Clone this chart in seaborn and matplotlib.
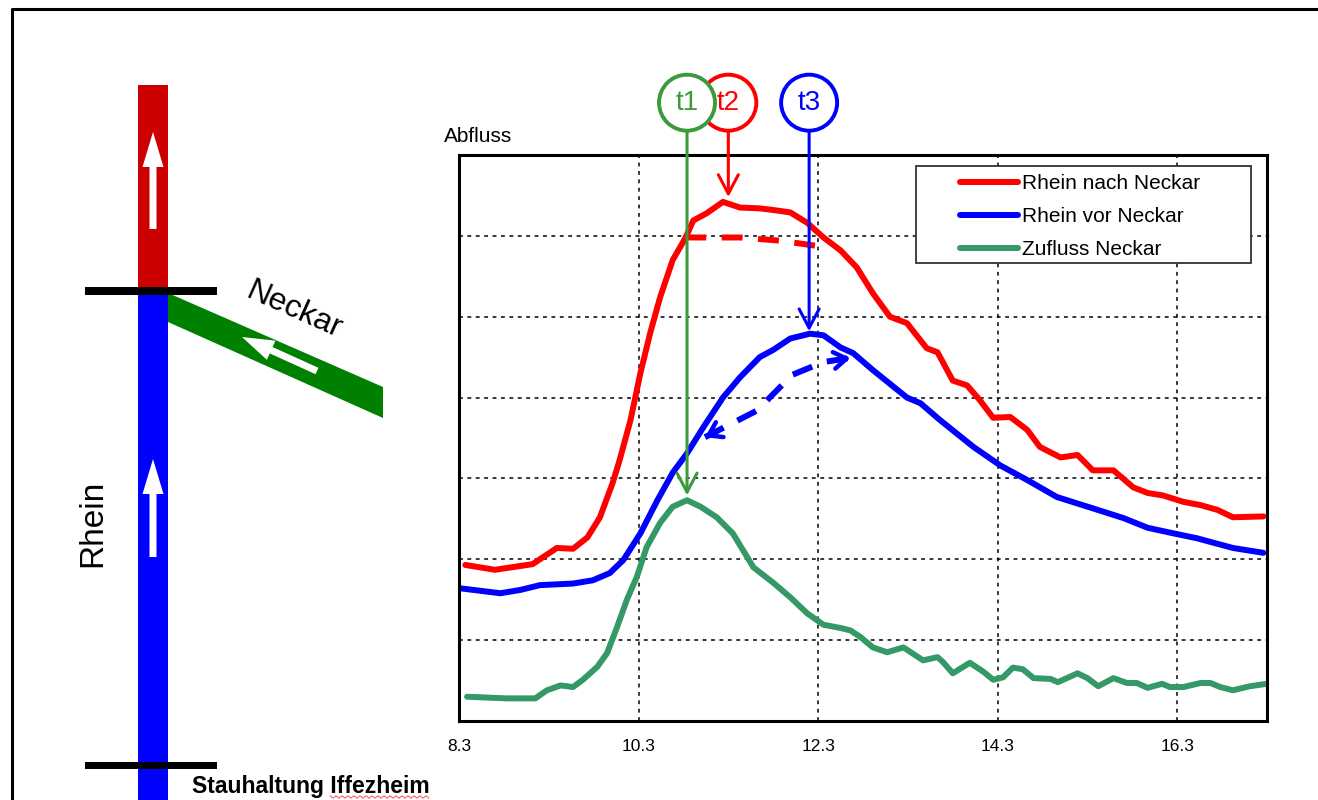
import numpy as np
import pandas as pd
import matplotlib
matplotlib.use("Agg")
import matplotlib.pyplot as plt
import seaborn as sns
from matplotlib.patches import Rectangle, Polygon, FancyArrow, Ellipse
from matplotlib.lines import Line2D
from matplotlib.ticker import FixedLocator, MultipleLocator

# ---------------- data ----------------
series_names = ["Rhein nach Neckar", "Rhein vor Neckar", "Zufluss Neckar"]
series_colors = ["#ff0000", "#0000ff", "#349966"]

red_t = [8.37, 8.70, 9.12, 9.39, 9.57, 9.73, 9.87, 10.01, 10.09, 10.21, 10.32, 10.43,
         10.54, 10.68, 10.82, 10.91, 11.06, 11.24, 11.43, 11.65, 11.80, 11.99, 12.18,
         12.36, 12.55, 12.73, 12.91, 13.10, 13.29, 13.51, 13.63, 13.80, 13.96, 14.10,
         14.25, 14.44, 14.63, 14.77, 15.00, 15.19, 15.36, 15.59, 15.81, 15.97, 16.14,
         16.37, 16.56, 16.75, 16.92, 17.26]
red_q = [1.93, 1.87, 1.94, 2.14, 2.13, 2.27, 2.52, 2.94, 3.23, 3.72, 4.30, 4.80,
         5.24, 5.70, 5.97, 6.19, 6.28, 6.42, 6.35, 6.34, 6.32, 6.29, 6.16,
         5.98, 5.82, 5.61, 5.29, 5.00, 4.92, 4.61, 4.56, 4.21, 4.15, 3.97,
         3.75, 3.76, 3.60, 3.39, 3.26, 3.29, 3.10, 3.10, 2.89, 2.82, 2.79,
         2.71, 2.67, 2.61, 2.52, 2.53]

blue_t = [8.32, 8.76, 8.98, 9.20, 9.57, 9.79, 9.98, 10.13, 10.32, 10.51, 10.68, 10.84,
          11.02, 11.24, 11.43, 11.65, 11.80, 11.99, 12.21, 12.36, 12.55, 12.69, 12.91,
          13.29, 13.44, 13.66, 14.03, 14.33, 14.63, 14.96, 15.36, 15.70, 15.97, 16.26,
          16.52, 16.92, 17.26]
blue_q = [1.64, 1.58, 1.62, 1.68, 1.70, 1.74, 1.83, 1.99, 2.32, 2.73, 3.07, 3.31,
          3.63, 4.00, 4.25, 4.50, 4.59, 4.73, 4.79, 4.77, 4.62, 4.55, 4.34,
          4.00, 3.93, 3.72, 3.39, 3.16, 2.98, 2.77, 2.63, 2.51, 2.39, 2.32,
          2.26, 2.14, 2.08]

green_t = [8.39, 8.83, 9.15, 9.28, 9.43, 9.57, 9.68, 9.84, 9.95, 10.06, 10.17, 10.28,
           10.39, 10.54, 10.68, 10.84, 10.99, 11.17, 11.35, 11.58, 11.80, 11.99, 12.18,
           12.36, 12.55, 12.66, 12.77, 12.91, 13.07, 13.25, 13.47, 13.63, 13.69, 13.80,
           13.99, 14.14, 14.25, 14.36, 14.47, 14.58, 14.70, 14.89, 14.97, 15.19, 15.30,
           15.42, 15.59, 15.74, 15.85, 15.97, 16.13, 16.22, 16.37, 16.56, 16.67, 16.78,
           16.92, 17.11, 17.30]
green_q = [0.30, 0.28, 0.28, 0.38, 0.44, 0.42, 0.51, 0.67, 0.84, 1.16, 1.50, 1.78,
           2.15, 2.45, 2.65, 2.73, 2.65, 2.52, 2.32, 1.90, 1.71, 1.53, 1.33,
           1.19, 1.15, 1.12, 1.04, 0.91, 0.85, 0.91, 0.75, 0.79, 0.73, 0.59,
           0.72, 0.61, 0.51, 0.54, 0.66, 0.64, 0.53, 0.52, 0.48, 0.59, 0.53,
           0.43, 0.53, 0.47, 0.47, 0.41, 0.46, 0.42, 0.42, 0.47, 0.47, 0.42,
           0.38, 0.43, 0.46]

# dashed (hypothetical) curves
red_dash_t = [10.82, 11.43, 11.88, 12.32]
red_dash_q = [5.98, 5.98, 5.94, 5.87]
blue_dash_t = [11.04, 11.62, 12.01, 12.36, 12.66]
blue_dash_q = [3.51, 3.84, 4.28, 4.44, 4.49]

# time markers t1, t2, t3
marker_labels = ["t1", "t2", "t3"]
marker_colors = ["#3c9a3c", "#ff0000", "#0000ff"]
marker_x = [10.84, 11.30, 12.20]
marker_tip_q = [2.79, 6.48, 4.82]

x_tick_values = [8.3, 10.3, 12.3, 14.3, 16.3]
x_tick_labels = ["8.3", "10.3", "12.3", "14.3", "16.3"]

# ---------------- style ----------------
sns.set_style("white")
plt.rcParams["font.family"] = ["Liberation Sans", "DejaVu Sans"]
plt.rcParams["text.color"] = "black"
plt.rcParams["xtick.color"] = "black"
plt.rcParams["ytick.color"] = "black"
plt.rcParams["axes.labelcolor"] = "black"

W, H = 1318, 800
fig = plt.figure(figsize=(W / 100, H / 100), dpi=100)
fig.patch.set_facecolor("white")

# background overlay in pixel coordinates for the schematic
bg = fig.add_axes([0, 0, 1, 1], zorder=0)
bg.set_xlim(0, W)
bg.set_ylim(H, 0)
bg.axis("off")

# frame
bg.plot([12, 12, W], [H, 9, 9], color="black", lw=2.2, solid_capstyle="butt")

# river schematic
bg.add_patch(Rectangle((138, 85), 30, 206, color="#cc0000", lw=0))
bg.add_patch(Rectangle((138, 291), 30, H - 291, color="#0000ff", lw=0))
bg.add_patch(Polygon([(168, 293), (383, 387), (383, 418), (168, 322)], closed=True,
                     color="#008000", lw=0))
bg.add_patch(Rectangle((85, 287), 132, 8, color="black", lw=0))
bg.add_patch(Rectangle((85, 762), 132, 7, color="black", lw=0))
bg.add_patch(FancyArrow(153, 229, 0, -97, width=7, head_width=21, head_length=35,
                        length_includes_head=True, color="white", lw=0))
bg.add_patch(FancyArrow(153, 557, 0, -98, width=7, head_width=21, head_length=35,
                        length_includes_head=True, color="white", lw=0))
bg.add_patch(FancyArrow(317, 371, -75, -34, width=7, head_width=21, head_length=32,
                        length_includes_head=True, color="white", lw=0))
bg.text(294, 310, "Neckar", rotation=-24, fontsize=23, ha="center", va="center",
        rotation_mode="anchor")
bg.text(93, 523, "Rhein", rotation=90, fontsize=24, ha="center", va="center")
bg.text(192, 787, "Stauhaltung Iffezheim", fontsize=16.5, fontweight="bold",
        ha="left", va="center")
# spell-check squiggle under "Iffezheim"
sq_x = np.arange(330, 431, 3)
bg.plot(sq_x, 797 + np.where(np.arange(len(sq_x)) % 2 == 0, -1.2, 1.2),
        color="#ff6060", lw=0.8)

# ---------------- main chart ----------------
ax = fig.add_axes([459 / W, 1 - 721 / H, 808 / W, 566 / H], zorder=1)
ax.set_facecolor("white")

frames = []
for name, t, q in zip(series_names, [red_t, blue_t, green_t], [red_q, blue_q, green_q]):
    frames.append(pd.DataFrame({"t": t, "Q": q, "Serie": name}))
df = pd.concat(frames, ignore_index=True)

sns.lineplot(data=df, x="t", y="Q", hue="Serie", hue_order=series_names,
             palette=dict(zip(series_names, series_colors)), sort=False,
             estimator=None, lw=4.3, legend=False, ax=ax, zorder=2)

ax.plot(red_dash_t, red_dash_q, color="#ff0000", lw=4.3, dashes=(3.5, 2.6),
        solid_capstyle="butt", zorder=3)
ax.plot(blue_dash_t, blue_dash_q, color="#0000ff", lw=4.3, dashes=(3.5, 2.6),
        zorder=3)
# small arrow heads on the dashed blue curve
for i0, i1 in [(0, 1), (-1, -2)]:
    p0 = np.array([blue_dash_t[i0], blue_dash_q[i0]])
    p1 = np.array([blue_dash_t[i1], blue_dash_q[i1]])
    ax.annotate("", xy=tuple(p0), xytext=tuple(p0 + 0.25 * (p1 - p0)),
                arrowprops=dict(arrowstyle="->,head_length=0.45,head_width=0.3",
                                color="#0000ff", lw=3.2, shrinkA=0, shrinkB=0,
                                mutation_scale=20), zorder=3)

ax.set_xlim(8.3, 17.3)
ax.set_ylim(0, 7)
ax.set_xlabel("")
ax.set_ylabel("")
ax.set_xticks(x_tick_values)
ax.set_xticklabels(x_tick_labels, fontsize=12.5, color="black",
                   family=["Liberation Sans Narrow", "Liberation Sans", "DejaVu Sans"])
ax.xaxis.set_minor_locator(FixedLocator(np.arange(8.3, 17.31, 0.25)))
ax.set_yticks(range(1, 7))
ax.set_yticklabels([])
ax.yaxis.set_minor_locator(MultipleLocator(0.2))
ax.tick_params(axis="both", which="both", direction="in", top=False, right=False,
               color="black")
ax.tick_params(axis="both", which="major", length=6, width=1)
ax.tick_params(axis="both", which="minor", length=4, width=1)
ax.tick_params(axis="x", which="major", pad=13)
ax.grid(True, which="major", color="black", linestyle=(0, (2.5, 3)), lw=1.1)
for s in ax.spines.values():
    s.set_visible(True)
    s.set_color("black")
    s.set_linewidth(2.2)

ax.text(-0.0186, 1.032, "Abfluss", transform=ax.transAxes, fontsize=15,
        ha="left", va="center")

# time markers with circles
rx = 28 / (808 / 9.0)
ry = 28 / (566 / 7.0)
cy = 7.647
z_order_marker = [8, 7, 7]
for lab, col, mx, tip, zz in zip(marker_labels, marker_colors, marker_x, marker_tip_q,
                                 z_order_marker):
    ax.annotate("", xy=(mx, tip), xytext=(mx, cy - ry), xycoords="data",
                textcoords="data", annotation_clip=False,
                arrowprops=dict(arrowstyle="->,head_length=1.37,head_width=0.72",
                                color=col, lw=2.2, shrinkA=0, shrinkB=0,
                                mutation_scale=10), zorder=6)
    ax.add_patch(Ellipse((mx, cy), 2 * rx, 2 * ry, facecolor="white", edgecolor=col,
                         lw=2.8, clip_on=False, zorder=zz))
    ax.text(mx, cy, lab, color=col, fontsize=20, ha="center", va="center",
            zorder=zz + 0.5, clip_on=False)

# legend
ax.add_patch(Rectangle((0.5656, 0.809), 0.4146, 0.1716, transform=ax.transAxes,
                       facecolor="white", edgecolor="#333333", lw=1.3, zorder=9,
                       clip_on=False))
handles = [Line2D([], [], color=c, lw=4.3, solid_capstyle="round") for c in series_colors]
leg = ax.legend(handles, series_names, loc="upper left",
                bbox_to_anchor=((960 - 459) / 808, (721 - 174) / 566),
                frameon=False, fontsize=15, handlelength=2.8, handletextpad=0.2,
                labelspacing=0.68, borderpad=0, borderaxespad=0)
leg.set_zorder(10)

fig.savefig("out.png", dpi=100, facecolor="white")
